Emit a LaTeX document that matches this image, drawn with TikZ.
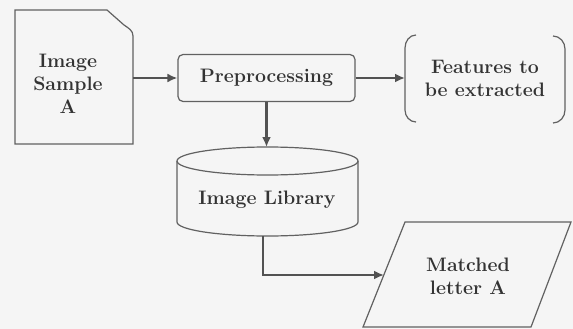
\documentclass[tikz,border=0pt]{standalone}
\usepackage{fontspec}
\usetikzlibrary{arrows.meta}
\begin{document}
\begin{tikzpicture}[x=1pt,y=-1pt,
  shapeline/.style={draw=black!62,line width=1.2pt},
  conn/.style={draw=black!68,line width=2.4pt,-{Latex[length=10pt,width=9pt]}},
  lbl/.style={font=\fontsize{19.5}{23}\selectfont\bfseries,text=black!80,align=center,inner sep=0pt}]
\fill[black!4] (0,0) rectangle (573,329);
\useasboundingbox (0,0) rectangle (573,329);
% document shape
\draw[shapeline] (15,10) -- (107,10) -- (124,25) to[out=-35,in=90] (133,36) -- (133,144) -- (15,144) -- cycle;
\node[lbl] (sample) at (68,84) {Image\\Sample\\A};
% preprocessing
\node[lbl, shapeline, rounded corners=5pt, minimum width=177pt, minimum height=47pt] (pre) at (266.5,78) {Preprocessing};
% features bracket box
\draw[shapeline] (416,35) to[out=180,in=90] (405,48) -- (405,110) to[out=-90,in=180] (416,122);
\draw[shapeline] (553,36) to[out=0,in=90] (565,49) -- (565,110) to[out=-90,in=0] (553,123);
\node[lbl] (feat) at (485,78) {Features to\\be extracted};
\coordinate (featL) at (405,78);
\coordinate (sampleR) at (133,78);
% cylinder
\draw[shapeline] (267.5,161) ellipse[x radius=90.5, y radius=14];
\draw[shapeline] (177,161) -- (177,222) arc[start angle=180, end angle=0, x radius=90.5, y radius=14] -- (358,161);
\node[lbl] (lib) at (267,200) {Image Library};
\coordinate (libTop) at (266.5,147);
\coordinate (libBot) at (263,236);
% parallelogram
\draw[shapeline] (405,222) -- (571,222) -- (531,327) -- (363,327) -- cycle;
\node[lbl] (match) at (468,276) {Matched\\letter A};
\coordinate (matchL) at (384,275);
% connectors
\draw[conn] (sampleR) -- (pre.west);
\draw[conn] (pre.east) -- (featL);
\draw[conn] (pre.south) -- (libTop);
\draw[conn] (libBot) |- (matchL);
\end{tikzpicture}
\end{document}
